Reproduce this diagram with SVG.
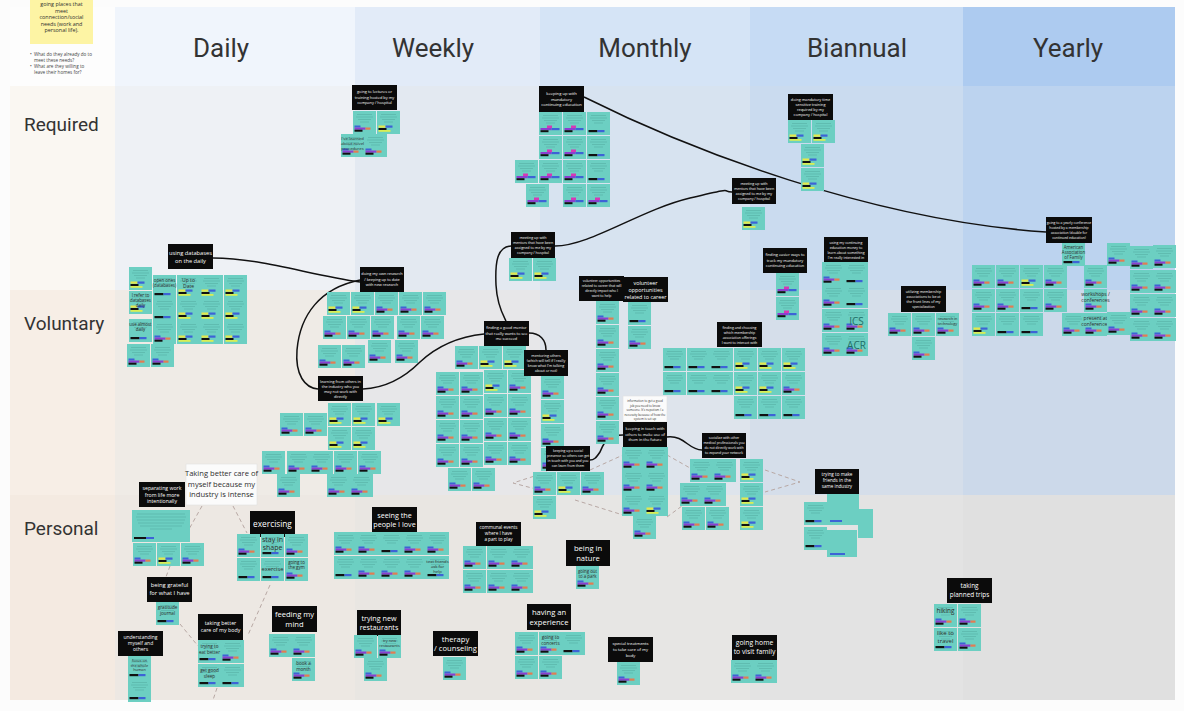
<svg xmlns="http://www.w3.org/2000/svg" width="1184" height="711" viewBox="0 0 1184 711">
<style>
.bx{fill:#0b0b0b}
.wb{fill:#fbfbfb;stroke:#e0e0e0;stroke-width:.6}
.t{font-family:"Open Sans","Liberation Sans",sans-serif;fill:#fff;text-anchor:middle}
.d{font-family:"Open Sans","Liberation Sans",sans-serif;fill:#2e2e2e;text-anchor:middle}
.h{font-family:Roboto,"Liberation Sans",sans-serif;font-size:26px;fill:#333;text-anchor:middle}
.rl{font-family:Roboto,"Liberation Sans",sans-serif;font-size:19px;fill:#333}
.cn{fill:none;stroke:#111;stroke-width:1.5}
.ds{fill:none;stroke:#b8a8a4;stroke-width:1;stroke-dasharray:4 3}
.sq{fill:#6ccfc2}
</style>
<defs>
<g id="st"><rect width="23" height="23" fill="#6ccfc2"/><path d="M4 3.5h15M3 6h17M5 8.5h13M7 11h9" stroke="#3e8a83" stroke-width=".5" opacity=".55"/></g>
<g id="a"><use href="#st"/><rect x="1.5" y="14.5" width="6" height="2" fill="#3d63d6"/><rect x="1.5" y="16.5" width="11" height="2.2" fill="#8b3fd0"/><rect x="12.5" y="16.5" width="5" height="2.2" fill="#e27d52"/><rect x="1.5" y="18.7" width="8" height="2" fill="#111"/></g>
<g id="b"><use href="#st"/><rect x="1.5" y="14.5" width="7" height="2.2" fill="#e6e84a"/><rect x="8.5" y="14.5" width="7" height="2.2" fill="#3d63d6"/><rect x="1.5" y="17" width="8" height="2" fill="#111"/><rect x="1.5" y="19" width="12" height="1.8" fill="#d9ee55"/></g>
<g id="c"><use href="#st"/><rect x="1.5" y="18" width="9" height="2.2" fill="#111"/><rect x="10.5" y="18" width="7" height="2.2" fill="#3d63d6"/></g>
<g id="e"><use href="#st"/><rect x="8" y="13.5" width="5" height="2.5" fill="#d638b6"/><rect x="1.5" y="16" width="11" height="2.2" fill="#8b3fd0"/><rect x="12.5" y="16" width="8" height="2.2" fill="#3d63d6"/><rect x="1.5" y="18.2" width="8" height="2" fill="#111"/></g>
</defs>

<rect width="1184" height="711" fill="#fcfcfc"/>
<g id="board">
<rect x="10" y="7" width="105" height="79" fill="#fdfdfd"/>
<rect x="115" y="7" width="240" height="79" fill="#f0f5fc"/>
<rect x="355" y="7" width="185" height="79" fill="#e2ebf8"/>
<rect x="540" y="7" width="210" height="79" fill="#d5e4f6"/>
<rect x="750" y="7" width="213" height="79" fill="#c6dbf4"/>
<rect x="963" y="7" width="212" height="79" fill="#adcbf0"/>
<rect x="10" y="86" width="105" height="204" fill="#faf7f2"/>
<rect x="115" y="86" width="240" height="204" fill="#eef1f5"/>
<rect x="355" y="86" width="185" height="204" fill="#e3e9f1"/>
<rect x="540" y="86" width="210" height="204" fill="#d7e3f0"/>
<rect x="750" y="86" width="213" height="204" fill="#cadbef"/>
<rect x="963" y="86" width="212" height="204" fill="#bcd3ef"/>
<rect x="10" y="290" width="105" height="205" fill="#f7eee6"/>
<rect x="115" y="290" width="240" height="205" fill="#efebe6"/>
<rect x="355" y="290" width="185" height="205" fill="#e7e7e9"/>
<rect x="540" y="290" width="210" height="205" fill="#dee4ec"/>
<rect x="750" y="290" width="213" height="205" fill="#d5deea"/>
<rect x="963" y="290" width="212" height="205" fill="#ccd9ea"/>
<rect x="10" y="495" width="105" height="205" fill="#f4eae1"/>
<rect x="115" y="495" width="240" height="205" fill="#ede8e3"/>
<rect x="355" y="495" width="185" height="205" fill="#e9e6e2"/>
<rect x="540" y="495" width="210" height="205" fill="#e7e6e4"/>
<rect x="750" y="495" width="213" height="205" fill="#e3e3e3"/>
<rect x="963" y="495" width="212" height="205" fill="#e0e0e0"/>
</g>

<g id="intro">
<rect x="30" y="-4" width="63" height="48" fill="#fdf4a4"/>
<text class="d" font-size="5.4" fill="#333"><tspan x="61.5" y="6">going places that</tspan><tspan x="61.5" y="12.5">meet</tspan><tspan x="61.5" y="19">connection/social</tspan><tspan x="61.5" y="25.5">needs (work and</tspan><tspan x="61.5" y="32">personal life).</tspan></text>
<text font-family="'Open Sans','Liberation Sans',sans-serif" font-size="4.6" fill="#444"><tspan x="30" y="56">•</tspan><tspan x="34" y="56">What do they already do to</tspan><tspan x="34" y="62">meet these needs?</tspan><tspan x="30" y="68">•</tspan><tspan x="34" y="68">What are they willing to</tspan><tspan x="34" y="74">leave their homes for?</tspan></text>
</g>

<g id="headers">
<text class="h" x="221" y="57">Daily</text>
<text class="h" x="433" y="57">Weekly</text>
<text class="h" x="645" y="57">Monthly</text>
<text class="h" x="857" y="57">Biannual</text>
<text class="h" x="1068" y="57">Yearly</text>
<text class="rl" x="24" y="131">Required</text>
<text class="rl" x="24" y="330">Voluntary</text>
<text class="rl" x="24" y="535">Personal</text>
</g>

<g id="connectors">
<path class="cn" d="M584 97 C690 150 870 220 1046 232"/>
<path class="cn" d="M555 246 C590 246 640 210 690 198 S720 192 732 192"/>
<path class="cn" d="M511 246 C497 247 495 262 496 285 C497 305 503 315 506 321"/>
<path class="cn" d="M529 333 C540 333 546 340 546 350"/>
<path class="cn" d="M484 334 C455 337 435 348 420 362 C405 377 385 388 363 389"/>
<path class="cn" d="M360 280 C320 288 300 315 297 350 C295 375 305 388 318 389"/>
<path class="cn" d="M213 258 C260 258 310 275 360 282"/>
<path class="cn" d="M623 435 C605 435 603 446 600 452 C596 458 594 460 590 460"/>
<path class="cn" d="M667 437 C685 435 688 450 702 450"/>
<path class="ds" d="M547 472 L513 483 L547 492"/>
<path class="ds" d="M590 470 L623 455"/>
<path class="ds" d="M575 500 L623 515"/>
<path class="ds" d="M667 455 L690 468"/>
<path class="ds" d="M667 517 L690 500"/>
<path class="ds" d="M765 470 L800 482 L765 492"/>
<path class="ds" d="M202 506 L188 531"/>
<path class="ds" d="M233 506 L247 533"/>
<path class="ds" d="M170 566 L166 577"/>
<path class="ds" d="M180 624 L198 646"/>
<path class="ds" d="M270 585 L248 635"/>
<path class="ds" d="M217 688 L213 700"/>
</g>

<!-- Required row -->
<g id="n-lectures">
<rect class="bx" x="352" y="85" width="45" height="25"/>
<text class="t" font-size="3.9"><tspan x="374.5" y="93">going to lectures or</tspan><tspan x="374.5" y="98.5">training hosted by my</tspan><tspan x="374.5" y="104">company / hospital</tspan></text>
<use href="#a" x="353" y="111"/><use href="#b" x="377" y="111"/>
<use href="#a" x="341" y="134"/><use href="#a" x="364" y="134"/>
<text class="d" font-size="4.2"><tspan x="352.5" y="140">I've learned</tspan><tspan x="352.5" y="145">about novel</tspan><tspan x="352.5" y="150">procedures</tspan></text>
</g>

<g id="n-mandatory">
<rect class="bx" x="539" y="86" width="45" height="26"/>
<text class="t" font-size="4.1"><tspan x="561.5" y="95">keeping up with</tspan><tspan x="561.5" y="100.5">mandatory</tspan><tspan x="561.5" y="106">continuing education</tspan></text>
<use href="#e" x="539" y="112"/><use href="#e" x="563" y="112"/><use href="#c" x="587" y="112"/>
<use href="#e" x="539" y="136"/><use href="#e" x="563" y="136"/><use href="#c" x="587" y="136"/>
<use href="#e" x="515" y="160"/><use href="#e" x="539" y="160"/><use href="#e" x="563" y="160"/><use href="#c" x="587" y="160"/>
<use href="#e" x="526" y="184"/><use href="#e" x="563" y="184"/><use href="#e" x="587" y="184"/>
</g>

<g id="n-timesensitive">
<rect class="bx" x="788" y="94" width="45" height="26"/>
<text class="t" font-size="3.8"><tspan x="810.5" y="100.5">doing mandatory time</tspan><tspan x="810.5" y="105.5">sensitive training</tspan><tspan x="810.5" y="110.5">required by my</tspan><tspan x="810.5" y="115.5">company / hospital</tspan></text>
<use href="#b" x="788" y="120"/><use href="#b" x="812" y="120"/>
<use href="#b" x="801" y="144"/><use href="#b" x="801" y="168"/>
</g>

<g id="n-mentors-assigned-1">
<rect class="bx" x="732" y="178" width="44" height="26"/>
<text class="t" font-size="3.6"><tspan x="754" y="184.5">meeting up with</tspan><tspan x="754" y="189.5">mentors that have been</tspan><tspan x="754" y="194.5">assigned to me by my</tspan><tspan x="754" y="199.5">company / hospital</tspan></text>
<use href="#b" x="742" y="207"/>
</g>

<g id="n-yearly-conference">
<rect class="bx" x="1046" y="217" width="46" height="26"/>
<text class="t" font-size="3.4"><tspan x="1069" y="223.5">going to a yearly conference</tspan><tspan x="1069" y="228.5">hosted by a membership</tspan><tspan x="1069" y="233.5">association (double for</tspan><tspan x="1069" y="238.5">continued education)</tspan></text>
<use href="#c" x="1062" y="243"/>
<text class="d" font-size="4.4"><tspan x="1073.5" y="249">American</tspan><tspan x="1073.5" y="254">Association</tspan><tspan x="1073.5" y="259">of Family</tspan></text>
<use href="#a" x="972" y="265"/><use href="#a" x="996" y="265"/><use href="#b" x="1020" y="265"/><use href="#a" x="1044" y="265"/>
<use href="#a" x="972" y="289"/><use href="#a" x="996" y="289"/><use href="#c" x="1020" y="289"/><use href="#a" x="1044" y="289"/>
<use href="#b" x="972" y="313"/><use href="#c" x="996" y="313"/><use href="#c" x="1020" y="313"/><use href="#a" x="1062" y="313"/>
<use href="#a" x="1084" y="265"/>
<use href="#a" x="1084" y="289"/>
<text class="d" font-size="5"><tspan x="1095.5" y="296">workshops /</tspan><tspan x="1095.5" y="302">conferences</tspan></text>
<use href="#a" x="1084" y="313"/>
<text class="d" font-size="5"><tspan x="1095.5" y="320">present at</tspan><tspan x="1095.5" y="326">conferences</tspan></text>
<use href="#a" x="1107" y="243"/><use href="#a" x="1130" y="246"/><use href="#a" x="1153" y="245"/>
<use href="#a" x="1130" y="270"/><use href="#a" x="1153" y="270"/>
<use href="#a" x="1107" y="312"/>
<use href="#a" x="1130" y="294"/><use href="#a" x="1153" y="294"/>
<use href="#a" x="1130" y="318"/><use href="#a" x="1153" y="318"/>
</g>

<!-- Voluntary row -->
<g id="n-databases">
<rect class="bx" x="168" y="244" width="45" height="25"/>
<text class="t" font-size="5.7"><tspan x="190.5" y="254.5">using databases</tspan><tspan x="190.5" y="262.5">on the daily</tspan></text>
<use href="#b" x="129" y="267"/><use href="#b" x="129" y="291"/>
<text class="d" font-size="4.4"><tspan x="140.5" y="297">I refer to</tspan><tspan x="140.5" y="302">databases</tspan><tspan x="140.5" y="307">daily</tspan></text>
<use href="#c" x="129" y="319"/>
<text class="d" font-size="4.4"><tspan x="140.5" y="326">use almost</tspan><tspan x="140.5" y="331">daily</tspan></text>
<use href="#a" x="127" y="344"/>
<use href="#c" x="153" y="275"/>
<text class="d" font-size="4.4"><tspan x="164.5" y="282">open ones</tspan><tspan x="164.5" y="287">(databases)</tspan></text>
<use href="#c" x="153" y="298"/><use href="#a" x="153" y="321"/><use href="#a" x="151" y="344"/>
<use href="#b" x="177" y="275"/>
<text class="d" font-size="5"><tspan x="188.5" y="282">Up to</tspan><tspan x="188.5" y="288">Date</tspan></text>
<use href="#b" x="177" y="298"/><use href="#b" x="177" y="321"/>
<use href="#b" x="200" y="275"/><use href="#b" x="200" y="298"/><use href="#b" x="200" y="321"/>
<use href="#b" x="224" y="275"/><use href="#b" x="224" y="298"/><use href="#b" x="224" y="321"/>
</g>

<g id="n-research">
<rect class="bx" x="360" y="267" width="44" height="25"/>
<text class="t" font-size="3.8"><tspan x="382" y="275">doing my own research</tspan><tspan x="382" y="280.5">/ keeping up to date</tspan><tspan x="382" y="286">with new research</tspan></text>
<use href="#b" x="327" y="292"/><use href="#b" x="351" y="292"/><use href="#a" x="375" y="292"/><use href="#a" x="399" y="292"/><use href="#a" x="423" y="292"/>
<use href="#a" x="323" y="316"/><use href="#a" x="347" y="316"/><use href="#a" x="371" y="316"/><use href="#a" x="397" y="316"/><use href="#a" x="421" y="316"/>
<use href="#a" x="318" y="345"/><use href="#a" x="342" y="345"/><use href="#a" x="368" y="340"/><use href="#a" x="395" y="340"/>
</g>

<g id="n-learning-others">
<rect class="bx" x="318" y="376" width="45" height="25"/>
<text class="t" font-size="3.8"><tspan x="340.5" y="382.5">learning from others in</tspan><tspan x="340.5" y="387.5">the industry who you</tspan><tspan x="340.5" y="392.5">may not work with</tspan><tspan x="340.5" y="397.5">directly</tspan></text>
<use href="#b" x="328" y="403"/><use href="#b" x="352" y="403"/><use href="#b" x="377" y="403"/>
<use href="#a" x="280" y="413"/><use href="#a" x="304" y="413"/>
<use href="#b" x="328" y="427"/><use href="#b" x="352" y="427"/>
<use href="#a" x="262" y="451"/><use href="#a" x="287" y="451"/><use href="#a" x="310" y="451"/><use href="#a" x="334" y="451"/><use href="#a" x="358" y="451"/>
<use href="#a" x="277" y="474"/><use href="#a" x="327" y="474"/><use href="#a" x="350" y="474"/>
</g>

<g id="n-mentors-assigned-2">
<rect class="bx" x="511" y="232" width="44" height="26"/>
<text class="t" font-size="3.6"><tspan x="533" y="238.5">meeting up with</tspan><tspan x="533" y="243.5">mentors that have been</tspan><tspan x="533" y="248.5">assigned to me by my</tspan><tspan x="533" y="253.5">company / hospital</tspan></text>
<use href="#b" x="509" y="258"/><use href="#b" x="533" y="258"/>
</g>

<g id="n-good-mentor">
<rect class="bx" x="484" y="321" width="45" height="25"/>
<text class="t" font-size="3.9"><tspan x="506.5" y="329">finding a good mentor</tspan><tspan x="506.5" y="334.5">that really wants to see</tspan><tspan x="506.5" y="340">me succeed</tspan></text>
<use href="#a" x="455" y="346"/><use href="#b" x="479" y="346"/><use href="#b" x="503" y="346"/>
<use href="#a" x="436" y="372"/><use href="#a" x="460" y="372"/><use href="#b" x="484" y="370"/><use href="#a" x="508" y="370"/>
<use href="#a" x="436" y="396"/><use href="#a" x="460" y="396"/><use href="#a" x="484" y="394"/><use href="#a" x="508" y="394"/>
<use href="#a" x="436" y="420"/><use href="#a" x="460" y="420"/><use href="#a" x="484" y="418"/><use href="#a" x="508" y="418"/>
<use href="#a" x="436" y="444"/><use href="#a" x="460" y="444"/><use href="#a" x="484" y="442"/><use href="#a" x="508" y="442"/>
<use href="#a" x="448" y="468"/><use href="#a" x="472" y="468"/>
</g>

<g id="n-mentoring-others">
<rect class="bx" x="524" y="350" width="44" height="26"/>
<text class="t" font-size="3.6"><tspan x="546" y="356.5">mentoring others</tspan><tspan x="546" y="361.5">(which will tell if I really</tspan><tspan x="546" y="366.5">know what I'm talking</tspan><tspan x="546" y="371.5">about or not)</tspan></text>
<use href="#a" x="541" y="376"/><use href="#b" x="541" y="400"/><use href="#a" x="541" y="424"/><use href="#a" x="541" y="448"/>
</g>

<g id="n-volunteer-impact">
<rect class="bx" x="579" y="276" width="45" height="25"/>
<text class="t" font-size="3.4"><tspan x="601.5" y="282">volunteer opportunities</tspan><tspan x="601.5" y="287">related to career that will</tspan><tspan x="601.5" y="292">directly impact who I</tspan><tspan x="601.5" y="297">want to help</tspan></text>
<use href="#a" x="596" y="301"/><use href="#a" x="596" y="325"/><use href="#a" x="596" y="349"/><use href="#a" x="596" y="373"/><use href="#a" x="596" y="397"/><use href="#a" x="596" y="421"/>
</g>

<g id="n-volunteer">
<rect class="bx" x="623" y="277" width="45" height="25"/>
<text class="t" font-size="5.4"><tspan x="645.5" y="284.5">volunteer</tspan><tspan x="645.5" y="291.5">opportunities</tspan><tspan x="645.5" y="298.5">related to career</tspan></text>
<use href="#c" x="628" y="302"/><use href="#a" x="628" y="326"/>
</g>

<g id="n-easier-ways">
<rect class="bx" x="763" y="248" width="44" height="25"/>
<text class="t" font-size="3.9"><tspan x="785" y="256">finding easier ways to</tspan><tspan x="785" y="261.5">track my mandatory</tspan><tspan x="785" y="267">continuing education</tspan></text>
<use href="#e" x="776" y="273"/><use href="#e" x="776" y="297"/>
</g>

<g id="n-ce-money">
<rect class="bx" x="824" y="237" width="44" height="25"/>
<text class="t" font-size="3.5"><tspan x="846" y="243.5">using my continuing</tspan><tspan x="846" y="248.5">education money to</tspan><tspan x="846" y="253.5">learn about something</tspan><tspan x="846" y="258.5">I'm really interested in</tspan></text>
<use href="#a" x="822" y="262"/><use href="#c" x="845" y="262"/>
<use href="#a" x="822" y="285"/><use href="#c" x="845" y="285"/>
<use href="#a" x="822" y="309"/><use href="#a" x="845" y="309"/>
<use href="#a" x="822" y="333"/><use href="#a" x="845" y="333"/>
<text x="856.5" y="325" font-family="'Open Sans','Liberation Sans',sans-serif" font-size="10" fill="#1f6f68" text-anchor="middle">ICS</text>
<text x="856.5" y="349" font-family="'Open Sans','Liberation Sans',sans-serif" font-size="10" fill="#1f6f68" text-anchor="middle">ACR</text>
</g>

<g id="n-membership-front">
<rect class="bx" x="901" y="286" width="45" height="26"/>
<text class="t" font-size="3.6"><tspan x="923.5" y="292.5">utilizing membership</tspan><tspan x="923.5" y="297.5">associations to be at</tspan><tspan x="923.5" y="302.5">the front lines of my</tspan><tspan x="923.5" y="307.5">specialization</tspan></text>
<use href="#a" x="888" y="313"/><use href="#a" x="912" y="313"/><use href="#a" x="936" y="313"/><use href="#a" x="912" y="337"/>
<text class="d" font-size="3.8"><tspan x="947.5" y="320">research in</tspan><tspan x="947.5" y="325">technology</tspan></text>
</g>

<g id="n-membership-choose">
<rect class="bx" x="717" y="322" width="45" height="25"/>
<text class="t" font-size="3.5"><tspan x="739.5" y="328.5">finding and choosing</tspan><tspan x="739.5" y="333.5">which membership</tspan><tspan x="739.5" y="338.5">association offerings</tspan><tspan x="739.5" y="343.5">I want to interact with</tspan></text>
<use href="#c" x="663" y="348"/><use href="#c" x="687" y="348"/><use href="#c" x="710" y="348"/><use href="#b" x="734" y="348"/><use href="#b" x="758" y="348"/><use href="#b" x="782" y="348"/>
<use href="#c" x="663" y="372"/><use href="#c" x="687" y="372"/><use href="#c" x="710" y="372"/><use href="#b" x="734" y="372"/><use href="#b" x="758" y="372"/><use href="#a" x="782" y="372"/>
<use href="#c" x="734" y="396"/><use href="#c" x="758" y="396"/><use href="#c" x="782" y="396"/>
</g>

<g id="n-info-note">
<rect class="wb" x="623" y="396" width="44" height="26"/>
<text class="d" font-size="3"><tspan x="645" y="402">information to get a good</tspan><tspan x="645" y="406.5">job you need to know</tspan><tspan x="645" y="411">someone. It's nepotism / a</tspan><tspan x="645" y="415.5">necessity because of how the</tspan><tspan x="645" y="420">system is set up</tspan></text>
</g>

<g id="n-keep-touch">
<rect class="bx" x="623" y="422" width="44" height="25"/>
<text class="t" font-size="3.9"><tspan x="645" y="430">keeping in touch with</tspan><tspan x="645" y="435.5">others to make use of</tspan><tspan x="645" y="441">them in the future</tspan></text>
<use href="#a" x="622" y="447"/><use href="#a" x="645" y="447"/>
<use href="#a" x="622" y="470"/><use href="#a" x="645" y="470"/>
<use href="#a" x="622" y="493"/><use href="#b" x="645" y="493"/>
<use href="#a" x="633" y="516"/>
</g>

<g id="n-social-presence">
<rect class="bx" x="546" y="446" width="44" height="25"/>
<text class="t" font-size="3.4"><tspan x="568" y="452">keeping up a social</tspan><tspan x="568" y="457">presence so others can get</tspan><tspan x="568" y="462">in touch with you and you</tspan><tspan x="568" y="467">can learn from them</tspan></text>
<use href="#a" x="533" y="472"/><use href="#b" x="557" y="472"/><use href="#a" x="581" y="472"/>
<use href="#b" x="533" y="496"/>
</g>

<g id="n-socialize">
<rect class="bx" x="702" y="433" width="44" height="25"/>
<text class="t" font-size="3.4"><tspan x="724" y="439">socialize with other</tspan><tspan x="724" y="444">medical professionals you</tspan><tspan x="724" y="449">do not directly work with</tspan><tspan x="724" y="454">to expand your network</tspan></text>
<use href="#a" x="690" y="459"/><use href="#a" x="713" y="459"/><use href="#b" x="740" y="459"/>
<use href="#a" x="680" y="483"/><use href="#a" x="703" y="483"/><use href="#b" x="740" y="483"/>
<use href="#a" x="682" y="507"/><use href="#a" x="706" y="507"/><use href="#b" x="740" y="507"/>
</g>

<g id="n-friends-industry">
<rect class="bx" x="815" y="469" width="44" height="25"/>
<text class="t" font-size="4.6"><tspan x="837" y="476">trying to make</tspan><tspan x="837" y="482">friends in the</tspan><tspan x="837" y="488">same industry</tspan></text>
<use href="#c" x="804" y="502"/>
<rect class="sq" x="827" y="494" width="32" height="31"/>
<rect x="830" y="520" width="12" height="2" fill="#3d63d6"/>
<rect class="sq" x="858" y="509" width="15" height="29"/>
<use href="#c" x="804" y="527"/>
<rect class="sq" x="827" y="530" width="30" height="27"/>
<rect x="830" y="553" width="15" height="2" fill="#3d63d6"/>
</g>

<!-- Personal row -->
<g id="n-take-care">
<rect class="wb" x="186" y="464" width="71" height="41"/>
<text class="d" font-size="7.6"><tspan x="221.5" y="476">Taking better care of</tspan><tspan x="221.5" y="486.5">myself because my</tspan><tspan x="221.5" y="497">industry is intense</tspan></text>
</g>

<g id="n-separating">
<rect class="bx" x="139" y="482" width="46" height="25"/>
<text class="t" font-size="5.2"><tspan x="162" y="490">separating work</tspan><tspan x="162" y="496.5">from life more</tspan><tspan x="162" y="503">intentionally</tspan></text>
<rect class="sq" x="132" y="510" width="58" height="32"/>
<path d="M137 514h48M136 517h50M137 520h48M138 523h46M140 526h42M150 529h22" stroke="#3e8a83" stroke-width=".5" opacity=".55"/>
<rect x="134" y="537" width="12" height="2" fill="#111"/><rect x="146" y="537" width="8" height="2" fill="#3d63d6"/>
<use href="#a" x="133" y="543"/><use href="#b" x="157" y="543"/><use href="#a" x="181" y="543"/>
</g>

<g id="n-exercising">
<rect class="bx" x="250" y="511" width="45" height="26"/>
<text class="t" font-size="8.3" x="272.5" y="527">exercising</text>
<use href="#a" x="237" y="534"/><use href="#c" x="261" y="534"/><use href="#a" x="285" y="534"/>
<use href="#c" x="237" y="558"/><use href="#c" x="261" y="558"/><use href="#a" x="285" y="558"/>
<text class="d" font-size="7"><tspan x="272.5" y="542">stay in</tspan><tspan x="272.5" y="550">shape</tspan></text>
<text class="d" font-size="5.8" x="272.5" y="571">exercise</text>
<text class="d" font-size="4.4"><tspan x="296.5" y="564">going to</tspan><tspan x="296.5" y="569">the gym</tspan></text>
</g>

<g id="n-grateful">
<rect class="bx" x="147" y="577" width="45" height="25"/>
<text class="t" font-size="5.8"><tspan x="169.5" y="587">being grateful</tspan><tspan x="169.5" y="595">for what I have</tspan></text>
<use href="#c" x="156" y="602"/>
<text class="d" font-size="4.6"><tspan x="167.5" y="609">gratitude</tspan><tspan x="167.5" y="614.5">journal</tspan></text>
</g>

<g id="n-care-body">
<rect class="bx" x="198" y="614" width="45" height="26"/>
<text class="t" font-size="5.3"><tspan x="220.5" y="625">taking better</tspan><tspan x="220.5" y="632">care of my body</tspan></text>
<use href="#c" x="198" y="640"/><use href="#a" x="221" y="640"/>
<use href="#c" x="198" y="664"/><use href="#c" x="221" y="664"/>
<text class="d" font-size="4.6"><tspan x="209.5" y="648">trying to</tspan><tspan x="209.5" y="653.5">eat better</tspan></text>
<text class="d" font-size="4.6"><tspan x="209.5" y="672">get good</tspan><tspan x="209.5" y="677.5">sleep</tspan></text>
</g>

<g id="n-understanding">
<rect class="bx" x="118" y="631" width="45" height="25"/>
<text class="t" font-size="5"><tspan x="140.5" y="638.5">understanding</tspan><tspan x="140.5" y="644.5">myself and</tspan><tspan x="140.5" y="650.5">others</tspan></text>
<use href="#c" x="128" y="656"/><use href="#c" x="128" y="679"/>
<text class="d" font-size="3.8"><tspan x="139.5" y="662">focus on</tspan><tspan x="139.5" y="666.5">the whole</tspan><tspan x="139.5" y="671">human</tspan></text>
</g>

<g id="n-feeding-mind">
<rect class="bx" x="272" y="606" width="45" height="26"/>
<text class="t" font-size="7.6"><tspan x="294.5" y="617">feeding my</tspan><tspan x="294.5" y="627">mind</tspan></text>
<use href="#a" x="269" y="634"/><use href="#a" x="292" y="634"/><use href="#a" x="292" y="658"/>
<text class="d" font-size="4.6"><tspan x="303.5" y="665">book a</tspan><tspan x="303.5" y="670.5">month</tspan></text>
</g>

<g id="n-people-love">
<rect class="bx" x="372" y="507" width="45" height="26"/>
<text class="t" font-size="7.2"><tspan x="394.5" y="517.5">seeing the</tspan><tspan x="394.5" y="527">people I love</tspan></text>
<use href="#a" x="334" y="532"/><use href="#a" x="357" y="532"/><use href="#c" x="380" y="532"/><use href="#a" x="403" y="532"/><use href="#a" x="426" y="532"/>
<use href="#c" x="334" y="556"/><use href="#a" x="357" y="556"/><use href="#a" x="380" y="556"/><use href="#a" x="403" y="556"/><use href="#c" x="426" y="556"/>
<text class="d" font-size="4.2"><tspan x="437.5" y="563">text friends</tspan><tspan x="437.5" y="568">ask for</tspan><tspan x="437.5" y="573">help</tspan></text>
</g>

<g id="n-restaurants">
<rect class="bx" x="357" y="610" width="44" height="26"/>
<text class="t" font-size="7.2"><tspan x="379" y="620.5">trying new</tspan><tspan x="379" y="630">restaurants</tspan></text>
<use href="#a" x="354" y="635"/><use href="#a" x="378" y="635"/><use href="#a" x="364" y="658"/>
<text class="d" font-size="3.8"><tspan x="389.5" y="642">try new</tspan><tspan x="389.5" y="646.5">restaurants</tspan></text>
</g>

<g id="n-communal">
<rect class="bx" x="476" y="522" width="45" height="24"/>
<text class="t" font-size="4.6"><tspan x="498.5" y="529">communal events</tspan><tspan x="498.5" y="535">where I have</tspan><tspan x="498.5" y="541">a part to play</tspan></text>
<use href="#a" x="463" y="546"/><use href="#a" x="487" y="546"/><use href="#a" x="510" y="546"/>
<use href="#a" x="463" y="570"/><use href="#a" x="487" y="570"/><use href="#a" x="510" y="570"/>
</g>

<g id="n-nature">
<rect class="bx" x="566" y="540" width="44" height="26"/>
<text class="t" font-size="7.6"><tspan x="588" y="551">being in</tspan><tspan x="588" y="561">nature</tspan></text>
<use href="#a" x="576" y="566"/>
<text class="d" font-size="4.4"><tspan x="587.5" y="572.5">going out</tspan><tspan x="587.5" y="578">to a park</tspan></text>
</g>

<g id="n-therapy">
<rect class="bx" x="433" y="631" width="45" height="25"/>
<text class="t" font-size="7.6"><tspan x="455.5" y="641.5">therapy</tspan><tspan x="455.5" y="651">/ counseling</tspan></text>
<use href="#a" x="443" y="657"/>
</g>

<g id="n-experience">
<rect class="bx" x="527" y="604" width="44" height="26"/>
<text class="t" font-size="7.6"><tspan x="549" y="614.5">having an</tspan><tspan x="549" y="624.5">experience</tspan></text>
<use href="#a" x="515" y="632"/><use href="#a" x="539" y="632"/><use href="#c" x="562" y="632"/>
<use href="#a" x="515" y="656"/><use href="#a" x="539" y="656"/>
<text class="d" font-size="4.6"><tspan x="550.5" y="639">going to</tspan><tspan x="550.5" y="644.5">concerts</tspan></text>
</g>

<g id="n-treatments">
<rect class="bx" x="608" y="637" width="45" height="25"/>
<text class="t" font-size="4.2"><tspan x="630.5" y="644.5">special treatments</tspan><tspan x="630.5" y="650.5">to take care of my</tspan><tspan x="630.5" y="656.5">body</tspan></text>
<use href="#a" x="617" y="662"/>
</g>

<g id="n-visit-family">
<rect class="bx" x="732" y="635" width="45" height="25"/>
<text class="t" font-size="6.8"><tspan x="754.5" y="645">going home</tspan><tspan x="754.5" y="654">to visit family</tspan></text>
<use href="#a" x="731" y="660"/><use href="#a" x="754" y="660"/>
</g>

<g id="n-trips">
<rect class="bx" x="947" y="578" width="45" height="25"/>
<text class="t" font-size="6.4"><tspan x="969.5" y="588">taking</tspan><tspan x="969.5" y="597">planned trips</tspan></text>
<use href="#a" x="934" y="604"/><use href="#c" x="934" y="628"/><use href="#a" x="958" y="604"/><use href="#a" x="958" y="628"/>
<text class="d" font-size="6.4" x="945.5" y="613">hiking</text>
<text class="d" font-size="6"><tspan x="945.5" y="635">like to</tspan><tspan x="945.5" y="643">travel</tspan></text>
</g>
</svg>
